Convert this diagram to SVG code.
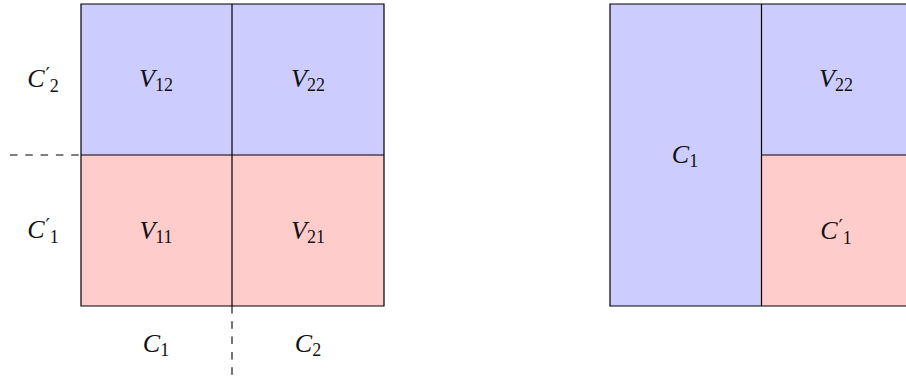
<svg xmlns="http://www.w3.org/2000/svg" width="906" height="382" viewBox="0 0 906 382">
<style>
.b{fill:#ccccff}
.r{fill:#ffcccc}
.ln{stroke:#000;stroke-width:1.2;fill:none}
.ds{stroke:#000;stroke-width:1.1;fill:none;stroke-dasharray:7.5 7.8}
text{font-family:"Liberation Serif","DejaVu Serif",serif;font-size:26px;fill:#111;text-anchor:middle}
.i{font-style:italic}
.s{font-size:18px}
.p{font-family:"DejaVu Sans",sans-serif;font-size:19px}
</style>
<g id="left-grid">
<g id="V12"><rect class="b" x="81" y="4" width="151" height="151"/><text x="156" y="87"><tspan class="i">V</tspan><tspan class="s" dy="4">12</tspan></text></g>
<g id="V22"><rect class="b" x="232" y="4" width="152" height="151"/><text x="308" y="87"><tspan class="i">V</tspan><tspan class="s" dy="4">22</tspan></text></g>
<g id="V11"><rect class="r" x="81" y="155" width="151" height="151"/><text x="156" y="239"><tspan class="i">V</tspan><tspan class="s" dy="4">11</tspan></text></g>
<g id="V21"><rect class="r" x="232" y="155" width="152" height="151"/><text x="308" y="239"><tspan class="i">V</tspan><tspan class="s" dy="4">21</tspan></text></g>
<path class="ln" d="M81 4H384V306H81Z M232 4V306 M81 155H384"/>
</g>
<g id="labels-left">
<text x="43" y="87"><tspan class="i">C</tspan><tspan class="p" dx="1" dy="-6">′</tspan><tspan class="s" dy="11">2</tspan></text>
<text x="43" y="238"><tspan class="i">C</tspan><tspan class="p" dx="1" dy="-6">′</tspan><tspan class="s" dy="11">1</tspan></text>
<text x="156" y="352"><tspan class="i">C</tspan><tspan class="s" dy="4">1</tspan></text>
<text x="308" y="352"><tspan class="i">C</tspan><tspan class="s" dy="4">2</tspan></text>
</g>
<g id="connectors">
<path class="ds" d="M10 155H81"/>
<path class="ds" d="M232 306V380"/>
</g>
<g id="right-grid">
<g id="C1-block"><rect class="b" x="610" y="4" width="151.5" height="302"/><text x="685" y="163"><tspan class="i">C</tspan><tspan class="s" dy="4">1</tspan></text></g>
<g id="V22-right"><rect class="b" x="761.5" y="4" width="151" height="151"/><text x="836" y="87"><tspan class="i">V</tspan><tspan class="s" dy="4">22</tspan></text></g>
<g id="C1p-right"><rect class="r" x="761.5" y="155" width="151" height="151"/><text x="836" y="239"><tspan class="i">C</tspan><tspan class="p" dx="1" dy="-6">′</tspan><tspan class="s" dy="11">1</tspan></text></g>
<path class="ln" d="M610 4H912.5V306H610Z M761.5 4V306 M761.5 155H912.5"/>
</g>
</svg>
